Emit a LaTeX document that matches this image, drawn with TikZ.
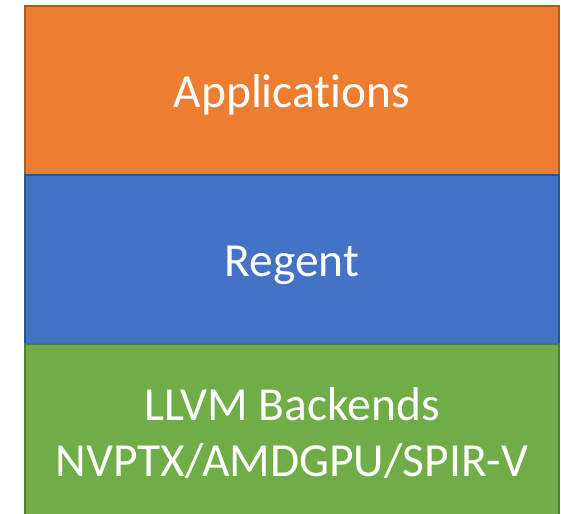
\documentclass[tikz,border=0pt]{standalone}
\usepackage{fontspec}
\setmainfont[RawFeature={-liga;-clig}]{Carlito}
\definecolor{orA}{HTML}{ED7D31}
\definecolor{orB}{HTML}{AE5A21}
\definecolor{blA}{HTML}{4472C4}
\definecolor{blB}{HTML}{2F528F}
\definecolor{grA}{HTML}{70AD47}
\definecolor{grB}{HTML}{507E32}
\tikzset{
  layer/.style={line width=1.8pt},
  lbl/.style={text=white, font=\fontsize{47.5}{56}\selectfont, align=center, inner sep=0pt}
}
\begin{document}
\begin{tikzpicture}[x=1pt,y=-1pt]
\useasboundingbox (0,0) rectangle (561,513);
\clip (0,0) rectangle (561,513);
\draw[layer, fill=orA, draw=orB] (25,6) rectangle (559,175);
\draw[layer, fill=blA, draw=blB] (25,175) rectangle (559,344);
\draw[layer, fill=grA, draw=grB] (25,344) rectangle (559,520);
\node[lbl] (app) at (292,95) {Applications};
\node[lbl] (reg) at (292,265) {Regent};
\node[lbl] (llvm) at (292,433) {LLVM Backends\\NVPTX/AMDGPU/SPIR-V};
\end{tikzpicture}
\end{document}
